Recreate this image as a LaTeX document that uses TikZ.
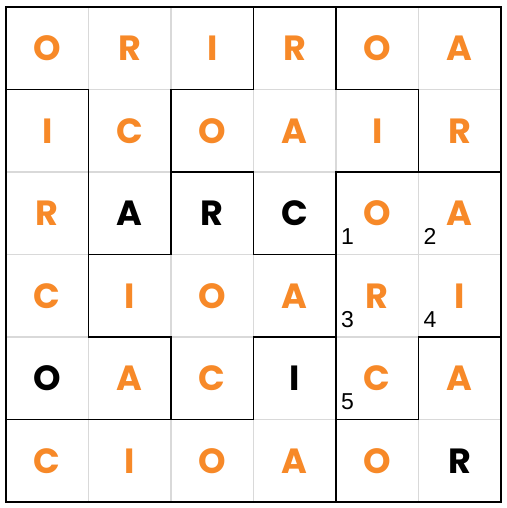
\documentclass[tikz,border=0pt]{standalone}
\usepackage{fontspec}
\setmainfont{Poppins}
\newfontfamily\numfont{Liberation Sans}
\definecolor{lorange}{RGB}{247,137,40}
\definecolor{gridgrey}{RGB}{217,217,217}
\begin{document}
\begin{tikzpicture}[x=1pt,y=-1pt,
  thin grid/.style={draw=gridgrey,line width=1.5pt},
  wall/.style={draw=black,line width=1.5pt,line cap=rect},
  frame/.style={draw=black,line width=2pt},
  lt/.style={anchor=base,inner sep=0pt,font=\fontsize{35}{35}\selectfont\bfseries},
  og/.style={lt,text=lorange},
  bk/.style={lt,text=black},
  num/.style={anchor=base west,inner sep=0pt,font=\numfont\fontsize{23}{23}\selectfont,text=black}]
\useasboundingbox (0,0) rectangle (506,508);
\fill[white] (0,0) rectangle (506,508);
\def\cs{82.5}
% thin grid
\foreach \i in {1,...,5}{
  \draw[thin grid] (6+\i*\cs,7) -- (6+\i*\cs,502);
  \draw[thin grid] (6,7+\i*\cs) -- (501,7+\i*\cs);
}
% horizontal walls: j/c
\foreach \j/\c in {1/0,1/2,1/4,2/2,2/4,2/5,3/1,3/3,4/1,4/3,4/5,5/0,5/1,5/2,5/4}{
  \draw[wall] (6+\c*\cs,7+\j*\cs) -- (6+\c*\cs+\cs,7+\j*\cs);
}
% vertical walls: i/r
\foreach \i/\r in {1/1,1/2,1/3,2/1,2/2,2/4,3/0,3/2,3/4,4/0,4/2,4/3,4/4,4/5,5/1,5/4}{
  \draw[wall] (6+\i*\cs,7+\r*\cs) -- (6+\i*\cs,7+\r*\cs+\cs);
}
\draw[frame] (6,7) rectangle (501,502);
% letters
\foreach \r/\c/\t/\s in {
 0/0/O/og,0/1/R/og,0/2/I/og,0/3/R/og,0/4/O/og,0/5/A/og,
 1/0/I/og,1/1/C/og,1/2/O/og,1/3/A/og,1/4/I/og,1/5/R/og,
 2/0/R/og,2/1/A/bk,2/2/R/bk,2/3/C/bk,2/4/O/og,2/5/A/og,
 3/0/C/og,3/1/I/og,3/2/O/og,3/3/A/og,3/4/R/og,3/5/I/og,
 4/0/O/bk,4/1/A/og,4/2/C/og,4/3/I/bk,4/4/C/og,4/5/A/og,
 5/0/C/og,5/1/I/og,5/2/O/og,5/3/A/og,5/4/O/og,5/5/R/bk}{
  \node[\s] (L\r\c) at (6+\c*\cs+0.5*\cs,7+\r*\cs+0.5*\cs+12.5) {\t};
}
% clue numbers
\foreach \r/\c/\n in {2/4/1,2/5/2,3/4/3,3/5/4,4/4/5}{
  \node[num] (N\n) at (6+\c*\cs+5,7+\r*\cs+\cs-10) {\n};
}
\end{tikzpicture}
\end{document}
